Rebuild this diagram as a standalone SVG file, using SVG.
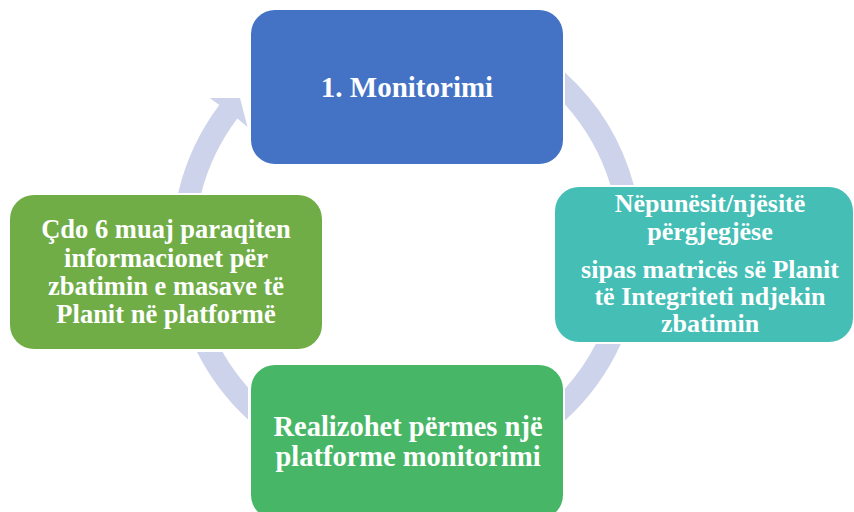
<svg xmlns="http://www.w3.org/2000/svg" width="854" height="512" viewBox="0 0 854 512">
<style>
.arc{fill:#CDD3EA;stroke:none}
.box{stroke:none}
.t{font-family:"Liberation Serif","Times New Roman",serif;font-weight:bold;fill:#FFFFFF;text-anchor:middle}
</style>
<rect width="854" height="512" fill="#FFFFFF"/>
<g id="connectors">
<path class="arc" d="M178.2,193 A235,235 0 0 1 219.3,105.1 L209.7,97.9 L240,98 L247.5,127 L237.3,118.6 A212.5,212.5 0 0 0 201.3,193 Z"/>
<path class="arc" d="M565,72.5 A235,235 0 0 1 633.8,185 L610.4,185 A212.5,212.5 0 0 0 565,104.4 Z"/>
<path class="arc" d="M620.8,344 A235,235 0 0 1 565,420.5 L565,388.6 A212.5,212.5 0 0 0 595.8,344 Z"/>
<path class="arc" d="M248,419.5 A235,235 0 0 1 197,352 L222.5,352 A212.5,212.5 0 0 0 248,387.5 Z"/>
</g>
<g id="node-top">
<rect class="box" x="251" y="10" width="312" height="154" rx="24" fill="#4472C4"/>
<text class="t" x="407" y="97" font-size="29">1. Monitorimi</text>
</g>
<g id="node-right">
<rect class="box" x="555" y="187" width="298" height="155" rx="24" fill="#45BEB6"/>
<text class="t" x="710" y="212" font-size="26">Nëpunësit/njësitë</text>
<text class="t" x="710" y="240" font-size="26">përgjegjëse</text>
<text class="t" x="710" y="278" font-size="26">sipas matricës së Planit</text>
<text class="t" x="710" y="305" font-size="26">të Integriteti ndjekin</text>
<text class="t" x="710" y="332" font-size="26">zbatimin</text>
</g>
<g id="node-left">
<rect class="box" x="10" y="195" width="312" height="154" rx="24" fill="#70AD47"/>
<text class="t" x="166" y="238" font-size="26.5">Çdo 6 muaj paraqiten</text>
<text class="t" x="166" y="267" font-size="26.5">informacionet për</text>
<text class="t" x="166" y="295" font-size="26.5">zbatimin e masave të</text>
<text class="t" x="166" y="323" font-size="26.5">Planit në platformë</text>
</g>
<g id="node-bottom">
<rect class="box" x="251" y="365" width="312" height="154" rx="24" fill="#47B767"/>
<text class="t" x="408" y="436" font-size="28.5">Realizohet përmes një</text>
<text class="t" x="408" y="466" font-size="28.5">platforme monitorimi</text>
</g>
</svg>
